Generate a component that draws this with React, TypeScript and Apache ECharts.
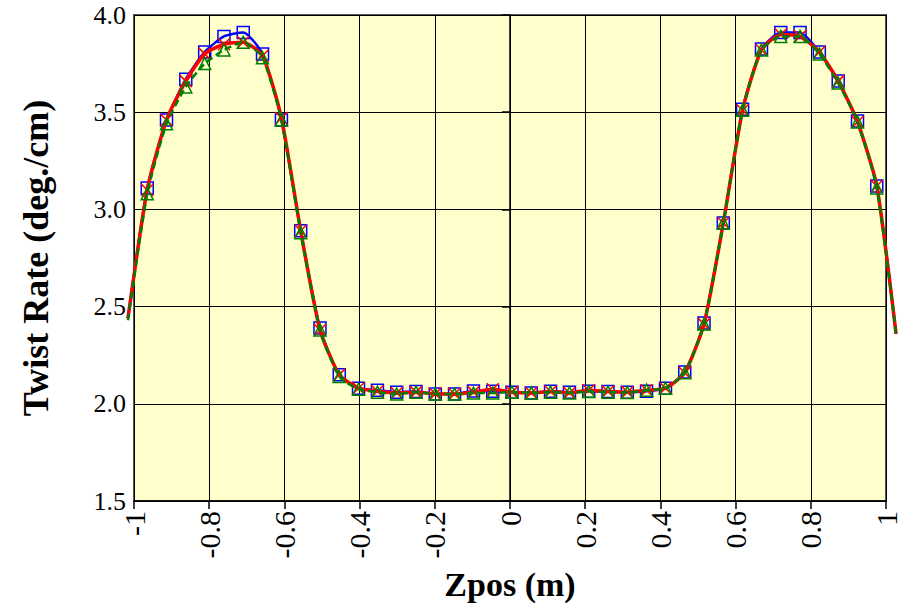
import React, { useEffect, useRef } from "react";
import * as echarts from "echarts";

// Z positions of the measured points (m)
const zPos = [
  -0.965, -0.914, -0.863, -0.813, -0.762, -0.711, -0.66, -0.61, -0.559, -0.508,
  -0.457, -0.406, -0.356, -0.305, -0.254, -0.203, -0.152, -0.102, -0.051, 0.0,
  0.051, 0.102, 0.152, 0.203, 0.254, 0.305, 0.356, 0.406, 0.457, 0.508,
  0.559, 0.61, 0.66, 0.711, 0.762, 0.813, 0.863, 0.914, 0.965,
];

const blueVals = [
  3.11, 3.46, 3.67, 3.81, 3.89, 3.91, 3.8, 3.46, 2.89, 2.39,
  2.15, 2.08, 2.07, 2.06, 2.063, 2.05, 2.05, 2.066, 2.065, 2.06,
  2.056, 2.065, 2.06, 2.065, 2.063, 2.06, 2.065, 2.08, 2.163, 2.415,
  2.93, 3.515, 3.825, 3.91, 3.91, 3.81, 3.66, 3.455, 3.12,
];
const redVals = [
  3.1, 3.46, 3.66, 3.8, 3.85, 3.86, 3.79, 3.47, 2.89, 2.38,
  2.15, 2.08, 2.065, 2.056, 2.06, 2.051, 2.05, 2.06, 2.075, 2.06,
  2.056, 2.063, 2.056, 2.07, 2.063, 2.06, 2.07, 2.08, 2.16, 2.41,
  2.93, 3.51, 3.82, 3.9, 3.89, 3.81, 3.66, 3.45, 3.12,
];
const greenVals = [
  3.08, 3.44, 3.63, 3.75, 3.82, 3.86, 3.78, 3.46, 2.88, 2.38,
  2.14, 2.075, 2.06, 2.05, 2.06, 2.05, 2.05, 2.055, 2.055, 2.06,
  2.056, 2.06, 2.056, 2.063, 2.06, 2.058, 2.07, 2.08, 2.16, 2.41,
  2.93, 3.51, 3.82, 3.89, 3.89, 3.8, 3.65, 3.45, 3.11,
];

// curve end points (no markers), slightly beyond the axis range
const endZ = [-1.016, 1.016];
const blueEnds = [2.44, 2.36];
const redEnds = [2.44, 2.36];
const greenEnds = [2.43, 2.36];

const xTicks = { min: -1, max: 1, interval: 0.2 };
const yTicks = { min: 1.5, max: 4.0, interval: 0.5 };

function buildData(vals: number[], ends: number[]) {
  const out: any[] = [];
  out.push({ value: [endZ[0], ends[0]], symbol: "none" });
  zPos.forEach((z, i) => out.push([z, vals[i]]));
  out.push({ value: [endZ[1], ends[1]], symbol: "none" });
  return out;
}

const FONT = "'Liberation Serif', 'Times New Roman', serif";

// plot area in pixels
const PL = 134, PR = 890, PT = 15, PB = 501, W = 901, H = 614;
const pxPerUnit = (PR - PL) / (xTicks.max - xTicks.min);

export default function App() {
  const ref = useRef<HTMLDivElement>(null);
  useEffect(() => {
    document.body.style.margin = "0";
    if (!ref.current) return;
    const chart = echarts.init(ref.current, undefined, { renderer: "svg" });
    const extL = PL - (xTicks.min - endZ[0]) * pxPerUnit;
    const extR = PR + (endZ[1] - xTicks.max) * pxPerUnit;
    const seriesCommon = {
      type: "line",
      clip: false,
      smooth: 0.2,
      xAxisIndex: 1,
      yAxisIndex: 1,
      symbolSize: 12,
    };
    chart.setOption({
      animation: false,
      backgroundColor: "#ffffff",
      grid: [
        {
          left: PL,
          top: PT,
          right: W - PR,
          bottom: H - PB,
          show: true,
          backgroundColor: "#FFFFCC",
          borderColor: "#555555",
          borderWidth: 2,
        },
        {
          left: extL,
          top: PT,
          right: W - extR,
          bottom: H - PB,
          show: false,
        },
      ],
      xAxis: [
        {
          type: "value",
          gridIndex: 0,
          min: xTicks.min,
          max: xTicks.max,
          interval: xTicks.interval,
          name: "Zpos (m)",
          nameLocation: "middle",
          nameGap: 66,
          nameTextStyle: { fontFamily: FONT, fontWeight: "bold", fontSize: 34, color: "#000" },
          axisLine: { onZero: false, lineStyle: { color: "#000", width: 1.5 } },
          axisTick: { show: true, length: 8, lineStyle: { color: "#000", width: 1.5 } },
          splitLine: { show: true, lineStyle: { color: "#000", width: 1 } },
          axisLabel: {
            rotate: 90,
            fontFamily: FONT,
            fontSize: 30,
            color: "#000",
            margin: 10,
            formatter: (v: number) => String(Math.round(v * 10) / 10),
          },
        },
        {
          type: "value",
          gridIndex: 1,
          min: endZ[0],
          max: endZ[1],
          show: false,
          splitLine: { show: false },
        },
      ],
      yAxis: [
        {
          type: "value",
          gridIndex: 0,
          min: yTicks.min,
          max: yTicks.max,
          interval: yTicks.interval,
          name: "Twist Rate (deg./cm)",
          nameLocation: "middle",
          nameGap: 80,
          nameTextStyle: { fontFamily: FONT, fontWeight: "bold", fontSize: 36, color: "#000" },
          axisLine: { show: true, lineStyle: { color: "#000", width: 1.5 } },
          axisTick: { show: true, length: 8, lineStyle: { color: "#000", width: 1.5 } },
          splitLine: { show: true, lineStyle: { color: "#000", width: 1 } },
          axisLabel: {
            fontFamily: FONT,
            fontSize: 26,
            color: "#000",
            margin: 8,
            formatter: (v: number) => v.toFixed(1),
          },
        },
        {
          type: "value",
          gridIndex: 1,
          min: yTicks.min,
          max: yTicks.max,
          show: false,
          splitLine: { show: false },
        },
      ],
      series: [
        {
          ...seriesCommon,
          data: buildData(blueVals, blueEnds),
          symbol: "rect",
          lineStyle: { color: "#0000FF", width: 2.5 },
          itemStyle: { color: "transparent", borderColor: "#0000FF", borderWidth: 1.5 },
          z: 2,
        },
        {
          ...seriesCommon,
          data: buildData(redVals, redEnds),
          symbol: "path://M0,0L10,10M10,0L0,10",
          lineStyle: { color: "#FF0000", width: 3.5 },
          itemStyle: { color: "transparent", borderColor: "#FF0000", borderWidth: 1.5 },
          z: 3,
        },
        {
          ...seriesCommon,
          data: buildData(greenVals, greenEnds),
          symbol: "triangle",
          lineStyle: { color: "#008000", width: 2.5, type: [7, 4] },
          itemStyle: { color: "transparent", borderColor: "#008000", borderWidth: 1.5 },
          z: 4,
        },
      ],
    });
    return () => chart.dispose();
  }, []);
  return <div ref={ref} style={{ width: W, height: H }} />;
}
